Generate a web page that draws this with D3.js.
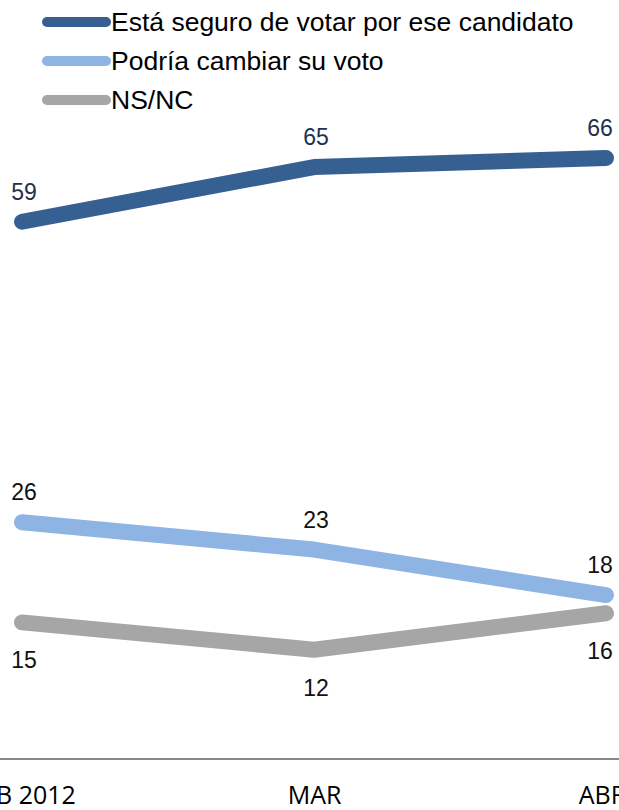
<!DOCTYPE html>
<html lang="es">
<head>
<meta charset="UTF-8">
<title>Seguridad del voto</title>
<script src="https://d3js.org/d3.v7.min.js"></script>
<style>
    body { margin: 0; background: #fff; }
    svg { display: block; }
    .legend text { font-family: "Liberation Sans", Arial, sans-serif; font-size: 26.5px; fill: #000; }
    .label { font-family: "Liberation Sans", Arial, sans-serif; font-size: 23px; text-anchor: middle; }
    .x-axis text { font-family: "Open Sans", sans-serif; font-size: 25px; fill: #000; }
</style>
</head>
<body>
<svg></svg>
<script>
    // data
    const months = ["FEB 2012", "MAR", "ABR"];
    const seguro = [59, 65, 66];
    const cambiar = [26, 23, 18];
    const nsnc = [15, 12, 16];

    const seriesNames = ["Está seguro de votar por ese candidato", "Podría cambiar su voto", "NS/NC"];
    const colors = ["#376092", "#8EB4E3", "#A6A6A6"];
    const labelColors = ["#1F3150", "#111", "#111"];
    const labelSide = ["above", "above", "below"];

    const series = [seguro, cambiar, nsnc].map((vals, i) => ({
        name: seriesNames[i],
        color: colors[i],
        labelColor: labelColors[i],
        side: labelSide[i],
        values: vals.map((v, j) => ({ month: months[j], value: v }))
    }));

    const width = 619, height = 810;

    const svg = d3.select("svg")
        .attr("width", width)
        .attr("height", height);

    const x = d3.scalePoint().domain(months).range([22, 606]);
    const y = d3.scaleLinear().domain([0, 66]).range([759, 158]);

    // baseline axis
    svg.append("line")
        .attr("x1", 0).attr("x2", width)
        .attr("y1", y(0)).attr("y2", y(0))
        .attr("stroke", "#888")
        .attr("stroke-width", 2);

    const xAxis = svg.append("g")
        .attr("class", "x-axis")
        .attr("transform", `translate(0,${y(0)})`)
        .call(d3.axisBottom(x).tickSize(0).tickPadding(27));
    xAxis.select(".domain").remove();
    // last label sits a bit left, as in the original
    xAxis.selectAll(".tick text").attr("dx", (d, i) => i === months.length - 1 ? -4 : 0);

    const line = d3.line()
        .x(d => x(d.month))
        .y(d => y(d.value));

    series.forEach(s => {
        svg.append("path")
            .datum(s.values)
            .attr("fill", "none")
            .attr("stroke", s.color)
            .attr("stroke-width", 16)
            .attr("stroke-linecap", "round")
            .attr("stroke-linejoin", "round")
            .attr("d", line);

        svg.selectAll(null)
            .data(s.values)
            .enter().append("text")
            .attr("class", "label")
            .attr("fill", s.labelColor)
            .attr("x", (d, i) => x(d.month) + (i === months.length - 1 ? -6 : 2))
            .attr("y", d => y(d.value) + (s.side === "above" ? -22 : 46))
            .text(d => d.value);
    });

    // legend
    const legend = svg.append("g").attr("class", "legend");
    series.forEach((s, i) => {
        const ly = 22 + i * 39;
        legend.append("line")
            .attr("x1", 47).attr("x2", 106)
            .attr("y1", ly).attr("y2", ly)
            .attr("stroke", s.color)
            .attr("stroke-width", 10)
            .attr("stroke-linecap", "round");
        legend.append("text")
            .attr("x", 111)
            .attr("y", ly)
            .attr("dy", "0.35em")
            .text(s.name);
    });
</script>
</body>
</html>
